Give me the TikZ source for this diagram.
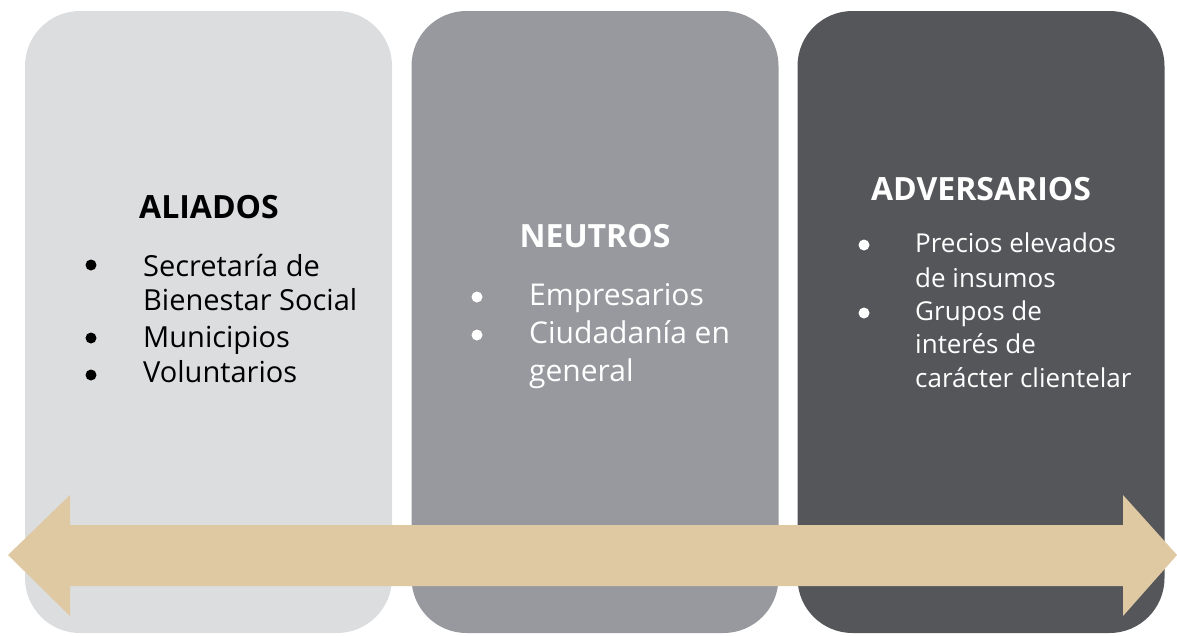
\documentclass[tikz,border=0pt]{standalone}
\usepackage{fontspec}
\setmainfont{Open Sans}
\usetikzlibrary{positioning}

\definecolor{lightgrey}{RGB}{220,221,223}
\definecolor{midgrey}{RGB}{151,153,158}
\definecolor{darkgrey}{RGB}{85,86,90}
\definecolor{sand}{RGB}{223,201,163}

\begin{document}
\begin{tikzpicture}[x=1pt,y=-1pt,
		box/.style={rounded corners=55pt, minimum width=367pt, minimum height=622pt, inner sep=0pt},
		title/.style={font=\fontsize{32}{38}\selectfont\bfseries, anchor=base, inner sep=0pt},
		entry/.style={font=\fontsize{29}{34}\selectfont, align=left, anchor=base west, inner sep=0pt},
		dot/.style={circle, fill, minimum size=11pt, inner sep=0pt},
	]
	\useasboundingbox (0,0) rectangle (1177,635);

	%Boxes
	\node[box, fill=lightgrey]	(aliados)		at (208.5,322)	{};
	\node[box, fill=midgrey]	(neutros)		at (595,322)	{};
	\node[box, fill=darkgrey]	(adversarios)	at (981,322)	{};

	%Titles
	\node[title]				(t1)	at (209,218)	{ALIADOS};
	\node[title, white]			(t2)	at (595,247)	{NEUTROS};
	\node[title, white]			(t3)	at (981,200)	{ADVERSARIOS};

	%Aliados (base = last line)
	\node[entry]						(a1)	at (143,310)	{Secretaría de\\Bienestar Social};
	\node[entry]						(a2)	at (143,347)	{Municipios};
	\node[entry]						(a3)	at (143,382)	{Voluntarios};
	\node[dot]	(b1)	at (91,265)	{};
	\node[dot]	(b2)	at (91,338)	{};
	\node[dot]	(b3)	at (91,375)	{};

	%Neutros
	\node[entry, white, font=\fontsize{30}{38}\selectfont]	(n1)	at (529,305)	{Empresarios};
	\node[entry, white, font=\fontsize{30}{38}\selectfont]	(n2)	at (529,381)	{Ciudadanía en\\general};
	\node[dot, white]	(b4)	at (477,297)	{};
	\node[dot, white]	(b5)	at (477,335)	{};

	%Adversarios
	\node[entry, white, font=\fontsize{26}{35}\selectfont]	(d1)	at (915,287)	{Precios elevados\\de insumos};
	\node[entry, white, font=\fontsize{26}{33.5}\selectfont]	(d2)	at (915,387)	{Grupos de\\interés de\\carácter clientelar};
	\node[dot, white]	(b6)	at (864,245)	{};
	\node[dot, white]	(b7)	at (864,313)	{};

	%Arrow
	\fill[sand] (8,555) -- (70,495) -- (70,525) -- (1123,525) -- (1123,495) -- (1177,555)
		-- (1123,616) -- (1123,586) -- (70,586) -- (70,616) -- cycle;

\end{tikzpicture}
\end{document}
